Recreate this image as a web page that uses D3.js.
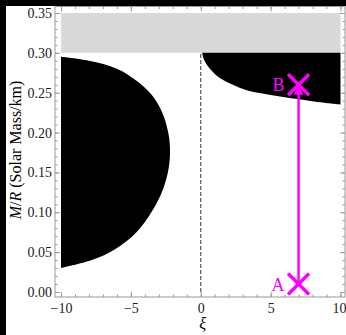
<!DOCTYPE html>
<html>
<head>
<meta charset="utf-8">
<script src="https://cdn.jsdelivr.net/npm/d3@7"></script>
<style>
body { margin: 0; background: #fff; }
text { font-family: "Liberation Serif", "DejaVu Serif", serif; }
</style>
</head>
<body>
<script>
var width = 346, height = 335;

// tick labels
var xiTicks = [-10, -5, 0, 5, 10];
var mrTicks = [0.00, 0.05, 0.10, 0.15, 0.20, 0.25, 0.30, 0.35];

// grey band on top
var bandXi = [-10, 10];
var bandMR = [0.30, 0.35];

// left black region, its boundary from top to bottom
var leftXi = [-10, -8, -6, -4.6, -3.5, -2.75, -2.35, -2.2, -2.3, -2.7, -3.5, -4.6, -6.1, -7.8, -10];
var leftMR = [0.295, 0.290, 0.280, 0.265, 0.247, 0.225, 0.202, 0.180, 0.155, 0.129, 0.101, 0.075, 0.054, 0.040, 0.030];

// right black region, lower boundary
var rightXi = [0.1, 0.2, 0.4, 0.7, 1.1, 1.6, 2.3, 3.3, 4.7, 6.9, 8.5, 10];
var rightMR = [0.300, 0.293, 0.286, 0.279, 0.272, 0.266, 0.260, 0.253, 0.248, 0.242, 0.238, 0.235];

// the two marked points
var pointNames = ["A", "B"];
var pointXi = [7, 7];
var pointMR = [0.01, 0.26];

var magenta = "#ff00ff";

var x = d3.scaleLinear().domain([-10, 10]).range([61, 340.5]);
var y = d3.scaleLinear().domain([0, 0.35]).range([292, 13]);

var fx0 = 55, fx1 = 345, fy0 = 6.5, fy1 = 297;

var svg = d3.select("body")
    .append("svg")
    .attr("width", width)
    .attr("height", height);

svg.append("rect")
    .attr("width", width)
    .attr("height", height)
    .style("fill", "white");

// grey band
svg.append("rect")
    .attr("x", x(bandXi[0]))
    .attr("y", y(bandMR[1]))
    .attr("width", x(bandXi[1]) - x(bandXi[0]))
    .attr("height", y(bandMR[0]) - y(bandMR[1]))
    .style("fill", "#d9d9d9");

var line = d3.line()
    .x(function (d) { return x(d[0]); })
    .y(function (d) { return y(d[1]); })
    .curve(d3.curveCatmullRom.alpha(0.5));

var leftPts = leftXi.map(function (v, i) { return [v, leftMR[i]]; });
svg.append("path")
    .attr("d", line(leftPts) + "Z")
    .style("fill", "black");

var rightPts = rightXi.map(function (v, i) { return [v, rightMR[i]]; });
svg.append("path")
    .attr("d", line(rightPts) + "L" + x(10) + "," + y(0.30) + "Z")
    .style("fill", "black");

// dashed line at xi = 0
svg.append("line")
    .attr("x1", x(0)).attr("x2", x(0))
    .attr("y1", y(0)).attr("y2", y(0.30))
    .style("stroke", "#555")
    .style("stroke-width", 1.2)
    .style("stroke-dasharray", "4,2");

// frame and ticks
function styleAxis(g) {
    g.select(".domain").remove();
    g.selectAll("line").style("stroke", "#999");
    g.selectAll("text")
        .style("font-family", "'Liberation Serif', serif")
        .style("font-size", "14px")
        .style("fill", "#222");
}

var minorXi = d3.range(-10, 10.001, 1);
var minorMR = d3.range(0, 0.3501, 0.01);

svg.append("g").attr("transform", "translate(0," + fy1 + ")")
    .call(d3.axisBottom(x).tickValues(minorXi).tickSize(-2.5).tickFormat(""))
    .call(styleAxis);
var bottom = svg.append("g").attr("transform", "translate(0," + fy1 + ")")
    .call(d3.axisBottom(x).tickValues(xiTicks).tickSize(-5).tickPadding(6).tickFormat(d3.format("d")))
    .call(styleAxis);
// keep the last label inside the picture
bottom.selectAll("text").filter(function (d) { return d === 10; }).attr("dx", -1.5);

svg.append("g").attr("transform", "translate(0," + fy0 + ")")
    .call(d3.axisTop(x).tickValues(minorXi).tickSize(-2.5).tickFormat(""))
    .call(styleAxis);
svg.append("g").attr("transform", "translate(0," + fy0 + ")")
    .call(d3.axisTop(x).tickValues(xiTicks).tickSize(-5).tickFormat(""))
    .call(styleAxis);

svg.append("g").attr("transform", "translate(" + fx0 + ",0)")
    .call(d3.axisLeft(y).tickValues(minorMR).tickSize(-2.5).tickFormat(""))
    .call(styleAxis);
svg.append("g").attr("transform", "translate(" + fx0 + ",0)")
    .call(d3.axisLeft(y).tickValues(mrTicks).tickSize(-5).tickPadding(3).tickFormat(d3.format(".2f")))
    .call(styleAxis);
svg.append("g").attr("transform", "translate(" + fx1 + ",0)")
    .call(d3.axisRight(y).tickValues(minorMR).tickSize(-2.5).tickFormat(""))
    .call(styleAxis);
svg.append("g").attr("transform", "translate(" + fx1 + ",0)")
    .call(d3.axisRight(y).tickValues(mrTicks).tickSize(-5).tickFormat(""))
    .call(styleAxis);

svg.append("rect")
    .attr("x", fx0).attr("y", fy0)
    .attr("width", fx1 - fx0).attr("height", fy1 - fy0)
    .style("fill", "none")
    .style("stroke", "#999")
    .style("stroke-width", 1);

// arrow A -> B
var ax = x(pointXi[0]), ay = y(pointMR[0]);
var bx = x(pointXi[1]), by = y(pointMR[1]);
svg.append("line")
    .attr("x1", ax).attr("y1", ay)
    .attr("x2", bx).attr("y2", by + 8)
    .style("stroke", magenta)
    .style("stroke-width", 2.5);
svg.append("path")
    .attr("d", "M" + bx + "," + (by + 1) + "L" + (bx - 5) + "," + (by + 10) + "L" + (bx + 5) + "," + (by + 10) + "Z")
    .style("fill", magenta);

// cross markers and labels
var pts = pointNames.map(function (n, i) { return {name: n, xi: pointXi[i], mr: pointMR[i]}; });
var s = 10.5;
var mk = svg.selectAll(".pt").data(pts).enter().append("g")
    .attr("transform", function (d) { return "translate(" + x(d.xi) + "," + y(d.mr) + ")"; });
mk.append("path")
    .attr("d", "M" + (-s) + "," + (-s) + "L" + s + "," + s + "M" + (-s) + "," + s + "L" + s + "," + (-s))
    .style("stroke", magenta)
    .style("stroke-width", 3.5);
mk.append("text")
    .attr("x", -14)
    .attr("y", 6.5)
    .attr("text-anchor", "end")
    .style("font-size", "18px")
    .style("fill", magenta)
    .text(function (d) { return d.name; });

// axis labels
svg.append("text")
    .attr("x", x(0) + 2)
    .attr("y", 329)
    .attr("text-anchor", "middle")
    .style("font-size", "16px")
    .style("font-style", "italic")
    .text("ξ");

var yl = svg.append("text")
    .attr("transform", "translate(21,150) rotate(-90)")
    .attr("text-anchor", "middle")
    .style("font-size", "16px");
yl.append("tspan").style("font-style", "italic").text("M");
yl.append("tspan").text("/");
yl.append("tspan").style("font-style", "italic").text("R");
yl.append("tspan").text(" (Solar Mass/km)");

// dark strips on the left and top edges
svg.append("rect").attr("x", 0).attr("y", 0).attr("width", 6).attr("height", height).style("fill", "black");
svg.append("rect").attr("x", 0).attr("y", 0).attr("width", width).attr("height", 6).style("fill", "black");
</script>
</body>
</html>
